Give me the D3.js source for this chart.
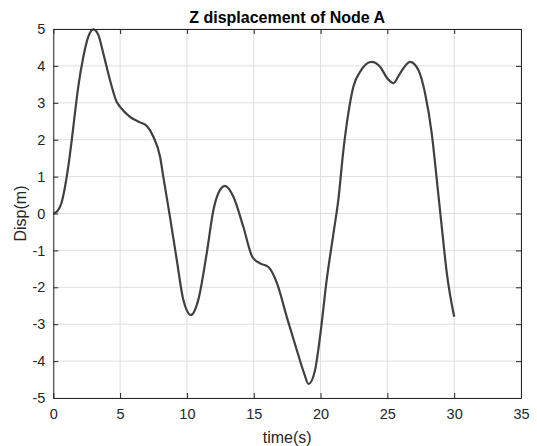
<!DOCTYPE html>
<html>
<head>
<meta charset="utf-8">
<script src="https://cdn.jsdelivr.net/npm/d3@7"></script>
<style>
html,body{margin:0;padding:0;background:#fff;}
svg{display:block;font-family:"Liberation Sans",Arial,sans-serif;}
</style>
</head>
<body>
<svg id="chart" width="537" height="446"></svg>
<script>
const titleText = "Z displacement of Node A";
const xLabel = "time(s)";
const yLabel = "Disp(m)";
const xTicks = [0, 5, 10, 15, 20, 25, 30, 35];
const yTicks = [-5, -4, -3, -2, -1, 0, 1, 2, 3, 4, 5];
const time = [0, 0.3, 0.6, 0.88, 1.12, 1.38, 1.62, 1.87, 2.25, 2.62, 3.0, 3.37, 3.74, 4.24, 4.74, 5.0, 5.74, 6.49, 7.0, 7.49, 7.99, 8.23, 8.73, 9.24, 9.73, 10.3, 10.85, 11.48, 11.98, 12.35, 12.85, 13.47, 14.22, 14.9, 15.47, 16.1, 16.75, 17.47, 18.22, 18.77, 19.1, 19.59, 19.96, 20.46, 20.96, 21.33, 21.71, 22.08, 22.46, 22.96, 23.8, 24.45, 25.0, 25.45, 25.95, 26.7, 27.32, 27.82, 28.32, 28.7, 29.07, 29.45, 30.0];
const disp = [0, 0.06, 0.27, 0.73, 1.27, 1.99, 2.72, 3.44, 4.25, 4.79, 4.99, 4.84, 4.34, 3.62, 3.03, 2.89, 2.62, 2.47, 2.37, 2.08, 1.54, 1.0, -0.09, -1.26, -2.34, -2.75, -2.34, -1.08, 0.09, 0.55, 0.75, 0.46, -0.36, -1.18, -1.35, -1.45, -1.9, -2.8, -3.7, -4.33, -4.62, -4.24, -3.34, -1.8, -0.55, 0.37, 1.72, 2.72, 3.44, 3.84, 4.11, 3.98, 3.66, 3.53, 3.8, 4.11, 3.89, 3.26, 2.17, 0.91, -0.36, -1.62, -2.8];

const svg = d3.select("#chart");
const PL = 53.3, PR = 521, PT = 29, PB = 398;
const x = d3.scaleLinear().domain([0, 35]).range([PL, PR]);
const y = d3.scaleLinear().domain([-5, 5]).range([PB, PT]);
const axisCol = "#262626";

svg.append("rect").attr("x", PL).attr("y", PT).attr("width", PR - PL).attr("height", PB - PT).attr("fill", "#fff");

// grid
const grid = svg.append("g");
grid.selectAll(".gx").data(xTicks).enter().append("line")
  .attr("x1", d => x(d)).attr("x2", d => x(d)).attr("y1", PT).attr("y2", PB)
  .attr("stroke", "#dfdfdf").attr("stroke-width", 1);
grid.selectAll(".gy").data(yTicks).enter().append("line")
  .attr("x1", PL).attr("x2", PR).attr("y1", d => y(d)).attr("y2", d => y(d))
  .attr("stroke", "#dfdfdf").attr("stroke-width", 1);

// line
const lineGen = d3.line().x((d, i) => x(time[i])).y(d => y(d)).curve(d3.curveMonotoneX);
svg.append("path").datum(disp).attr("d", lineGen)
  .attr("fill", "none").attr("stroke", "#404040").attr("stroke-width", 2.2)
  .attr("stroke-linejoin", "round");

// axes (inward ticks)
const fs = "14.5px";
const fmt = d => String(d);
const gBottom = svg.append("g").attr("transform", `translate(0,${PB})`)
  .call(d3.axisBottom(x).tickValues(xTicks).tickFormat(fmt).tickSizeInner(-5).tickSizeOuter(0).tickPadding(11));
const gLeft = svg.append("g").attr("transform", `translate(${PL},0)`)
  .call(d3.axisLeft(y).tickValues(yTicks).tickFormat(fmt).tickSizeInner(-5).tickSizeOuter(0).tickPadding(8));
const gTop = svg.append("g").attr("transform", `translate(0,${PT})`)
  .call(d3.axisTop(x).tickValues(xTicks).tickSizeInner(-5).tickSizeOuter(0).tickFormat(""));
const gRight = svg.append("g").attr("transform", `translate(${PR},0)`)
  .call(d3.axisRight(y).tickValues(yTicks).tickSizeInner(-5).tickSizeOuter(0).tickFormat(""));
[gBottom, gLeft, gTop, gRight].forEach(g => {
  g.selectAll("path.domain").attr("stroke", axisCol).attr("stroke-width", 1);
  g.selectAll(".tick line").attr("stroke", axisCol).attr("stroke-width", 1);
  g.selectAll(".tick text").attr("fill", axisCol).style("font-size", fs)
    .style("font-family", '"Liberation Sans",Arial,sans-serif');
});

// title & labels
svg.append("text").attr("x", (PL + PR) / 2).attr("y", 22.5).attr("text-anchor", "middle")
  .style("font-size", "16px").style("font-weight", "bold").attr("fill", "#000").text(titleText);
svg.append("text").attr("x", (PL + PR) / 2).attr("y", 442.5).attr("text-anchor", "middle")
  .style("font-size", "16px").attr("fill", axisCol).text(xLabel);
svg.append("text").attr("transform", `translate(26,${(PT + PB) / 2}) rotate(-90)`).attr("text-anchor", "middle")
  .style("font-size", "16px").attr("fill", axisCol).text(yLabel);
</script>
</body>
</html>
